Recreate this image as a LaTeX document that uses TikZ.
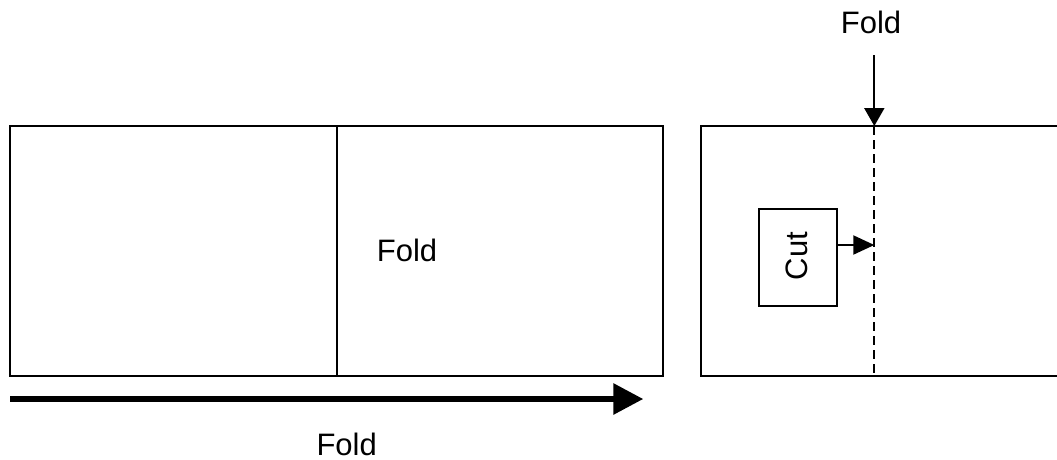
\documentclass[tikz,border=0pt]{standalone}
\usepackage{fontspec}
\setmainfont{Liberation Sans}
\usetikzlibrary{arrows.meta}
\begin{document}
\begin{tikzpicture}[x=1pt,y=-1pt,
  lbl/.style={font=\fontsize{31}{36}\selectfont, inner sep=0pt, text depth=0pt, anchor=base},
  edge/.style={line width=2pt},
  sheet/.style={draw, line width=2pt, inner sep=0pt},
  foldline/.style={line width=1.8pt, dash pattern=on 9pt off 5pt}]
\useasboundingbox (0,0) rectangle (1057,459);
\clip (0,0) rectangle (1057,459);
% left sheet
\node[sheet, minimum width=653pt, minimum height=250pt] (left) at (336.7,250.7) {};
\coordinate (midtop) at (336.7,125.7);
\coordinate (midbot) at (336.7,375.7);
\draw[edge] (midtop) -- (midbot);
\node[lbl] (foldA) at (407,261) {Fold};
% thick arrow
\coordinate (thickS) at (10,399);
\coordinate (thickE) at (643.3,399);
\draw[line width=6pt, -{Triangle[length=30pt,width=30pt]}] (thickS) -- (thickE);
\node[lbl] (foldB) at (346.7,455) {Fold};
% right sheet
\coordinate (rA) at (1070,126);
\coordinate (rB) at (701.3,126);
\coordinate (rC) at (701.3,375.7);
\coordinate (rD) at (1070,375.7);
\draw[edge] (rA) -- (rB) -- (rC) -- (rD);
\coordinate (ftop) at (874.3,126);
\coordinate (fbot) at (874.3,375.7);
\draw[foldline] (ftop) -- (fbot);
\coordinate (arrTop) at (874.3,55);
\draw[edge, -{Triangle[length=18pt,width=20pt]}] (arrTop) -- (ftop);
\node[lbl] (foldC) at (871,33.3) {Fold};
% cut box
\node[sheet, minimum width=78pt, minimum height=96.7pt] (cut) at (797.7,257.3) {};
\node[lbl, anchor=center, rotate=90] (cuttxt) at (797,256) {Cut};
\coordinate (cutTip) at (874.3,245);
\draw[edge, -{Triangle[length=21pt,width=19pt]}] (cut.east |- cutTip) -- (cutTip);
\end{tikzpicture}
\end{document}
